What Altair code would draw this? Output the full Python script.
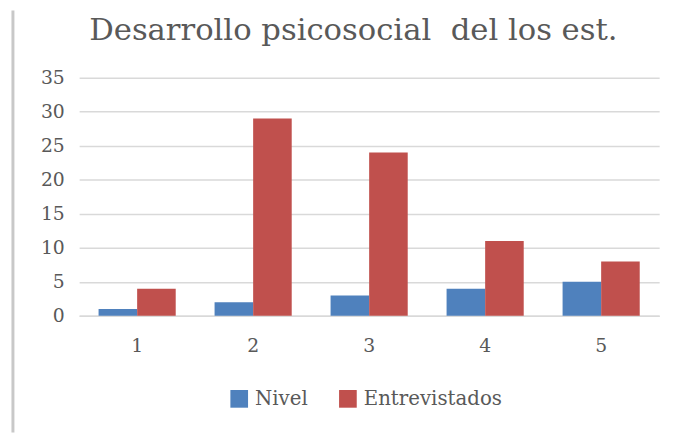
import altair as alt
import pandas as pd

categories = ["1", "2", "3", "4", "5"]
nivel = [1, 2, 3, 4, 5]
entrevistados = [4, 29, 24, 11, 8]
series_names = ["Nivel", "Entrevistados"]
colors = ["#4F81BD", "#C0504D"]
title_text = "Desarrollo psicosocial \u00a0del los est."

rows = []
for c, n, e in zip(categories, nivel, entrevistados):
    rows.append({"cat": c, "series": "Nivel", "value": n})
    rows.append({"cat": c, "series": "Entrevistados", "value": e})
df = pd.DataFrame(rows)

FONT = "DejaVu Serif"
TXT = "#595959"

bars = alt.Chart(df).mark_bar().encode(
    x=alt.X("cat:N", sort=categories,
            scale=alt.Scale(paddingInner=0.335, paddingOuter=0.1675),
            axis=alt.Axis(title=None, labelAngle=0, ticks=False, domain=True,
                          domainColor="#d9d9d9", domainWidth=1.5,
                          labelPadding=21, labelFontSize=19, labelFont=FONT,
                          labelColor=TXT, grid=False)),
    xOffset=alt.XOffset("series:N", sort=series_names),
    y=alt.Y("value:Q", scale=alt.Scale(domain=[0, 35], nice=False),
            axis=alt.Axis(title=None, values=list(range(0, 36, 5)), domain=False,
                          ticks=False, labelPadding=15, labelFontSize=19,
                          labelFont=FONT, labelColor=TXT, gridColor="#d9d9d9",
                          gridWidth=1.5)),
    color=alt.Color("series:N", sort=series_names,
                    scale=alt.Scale(domain=series_names, range=colors),
                    legend=alt.Legend(title=None, orient="none", legendX=152,
                                      legendY=315, direction="horizontal",
                                      symbolType="square", symbolSize=320,
                                      symbolStrokeWidth=0, labelFontSize=20,
                                      labelFont=FONT, labelColor=TXT,
                                      labelOffset=6, columnPadding=30)),
)

frame = alt.Chart(pd.DataFrame({"k": [0]})).mark_rule(color="#c8c8c8", strokeWidth=3).encode(
    x=alt.value(-67), y=alt.value(-68), y2=alt.value(359)
)

chart = alt.layer(frame, bars).properties(
    width=587, height=241,
    title=alt.TitleParams(title_text, fontSize=31, font=FONT, color=TXT,
                          fontWeight="normal", anchor="middle", frame="group",
                          dx=-16, dy=22, baseline="alphabetic", offset=-40),
    autosize=alt.AutoSizeParams(type="none"),
    padding={"left": 72, "top": 68, "right": 13, "bottom": 118},
).configure_view(stroke=None)

chart.save("out.html", embed_options={"renderer": "svg", "actions": False})
